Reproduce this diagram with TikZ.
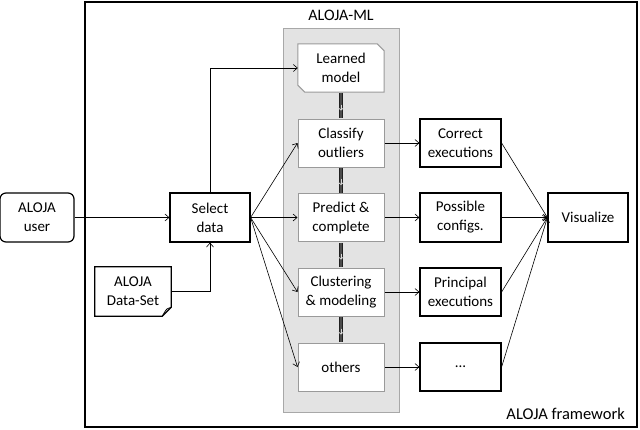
\documentclass[tikz,border=0pt]{standalone}
\usepackage{fontspec}
\setmainfont{Carlito}
\usetikzlibrary{arrows.meta,positioning}
\definecolor{mlfill}{HTML}{E3E3E3}
\definecolor{mlborder}{HTML}{A8A8A8}
\definecolor{innerborder}{HTML}{9A9A9A}
\tikzset{
  base/.style={align=center, font=\fontsize{15}{19}\selectfont, inner sep=0pt},
  blackbox/.style={base, draw=black, line width=1.2pt, fill=white, minimum width=80pt, minimum height=49pt},
  innerbox/.style={base, draw=innerborder, line width=1pt, fill=white, minimum width=86pt, minimum height=48pt},
  conn/.style={-{Straight Barb[length=4pt,width=7pt]}, line width=0.6pt, black},
  flow/.style={draw=gray!25!black, double=gray!60!black, double distance=1.8pt, line width=1.2pt},
  flowtip/.style={-{Straight Barb[length=2.5pt,width=6pt]}, draw=gray!30, line width=0.7pt},
}
\begin{document}
\begin{tikzpicture}[x=1pt,y=-1pt]
\useasboundingbox (0,0) rectangle (640,429);
% outer framework
\draw[line width=1.3pt] (85,2) rectangle (637,427);
\node[base, font=\fontsize{16.5}{19}\selectfont, anchor=base east] (fw) at (625,419) {ALOJA framework};
% ML container
\draw[fill=mlfill, draw=mlborder, line width=1pt] (283,28) rectangle (399,412);
\node[base, font=\fontsize{16}{19}\selectfont] (mltitle) at (341,15) {ALOJA-ML};
% left nodes
\node[blackbox, rounded corners=6pt, minimum width=74pt] (user) at (37,217.5) {ALOJA\\user};
\node[blackbox] (sel) at (210,217.5) {Select\\data};
\node[base, minimum width=76pt, minimum height=49pt] (ds) at (133,291.5) {};
\draw[line width=1.2pt, fill=white] (ds.north west) -- (ds.north east) -- ([yshift=9pt]ds.south east) -- ([xshift=-9pt]ds.south east) -- (ds.south west) -- cycle;
\draw[line width=0.8pt] ([yshift=9pt]ds.south east) .. controls ([xshift=-5pt,yshift=7pt]ds.south east) .. ([xshift=-6pt,yshift=5pt]ds.south east) .. controls ([xshift=-7pt,yshift=3pt]ds.south east) .. ([xshift=-9pt]ds.south east);
\node[base] (dstext) at (ds.center) {ALOJA\\Data-Set};
% inner nodes
\node[base, minimum width=86pt, minimum height=48pt] (lm) at (341,68) {};
\draw[draw=innerborder, line width=1pt, fill=white] (lm.north west) -- ([xshift=-7pt]lm.north east) -- ([yshift=-7pt]lm.north east) -- (lm.south east) -- ([xshift=7pt]lm.south west) -- ([yshift=7pt]lm.south west) -- cycle;
\node[base] (lmtext) at (lm.center) {Learned\\model};
\node[innerbox] (cl) at (341,143) {Classify\\outliers};
\node[innerbox] (pr) at (341,217.5) {Predict \&\\complete};
\node[innerbox] (cm) at (341,292) {Clustering\\\& modeling};
\node[innerbox] (ot) at (341,367) {others};
% right nodes
\node[blackbox, minimum width=81pt, minimum height=48pt] (ce) at (460.5,143) {Correct\\executions};
\node[blackbox, minimum width=81pt] (pc) at (460.5,217.5) {Possible\\configs.};
\node[blackbox, minimum width=81pt, minimum height=48pt] (pe) at (460.5,292) {Principal\\executions};
\node[blackbox, minimum width=81pt, minimum height=48pt] (dots) at (460.5,367) {...};
\node[blackbox] (vis) at (588,217.5) {Visualize};
% flows inside ML
\foreach \a/\b in {lm/cl, cl/pr, pr/cm, cm/ot}{
  \draw[flow] ([yshift=-0.5pt]\a.south) -- ([yshift=0.5pt]\b.north);
  \draw[flowtip] ([yshift=14pt]\b.north) -- ([yshift=8pt]\b.north);
}
% connectors
\draw[conn] (user.east) -- (sel.west);
\draw[conn] (ds.east) -| (sel.south);
\draw[conn] (sel.north) |- (lm.west);
\draw[conn] (sel.east) -- (cl.west);
\draw[conn] (sel.east) -- (pr.west);
\draw[conn] (sel.east) -- (cm.west);
\draw[conn] (sel.east) -- (ot.west);
\draw[conn] (cl.east) -- (ce.west);
\draw[conn] (pr.east) -- (pc.west);
\draw[conn] (cm.east) -- (pe.west);
\draw[conn] (ot.east) -- (dots.west);
\draw[conn] (ce.east) -- (vis.west);
\draw[conn] (pc.east) -- (vis.west);
\draw[conn] (pe.east) -- (vis.west);
\draw[conn] (dots.east) -- (vis.west);
\end{tikzpicture}
\end{document}
